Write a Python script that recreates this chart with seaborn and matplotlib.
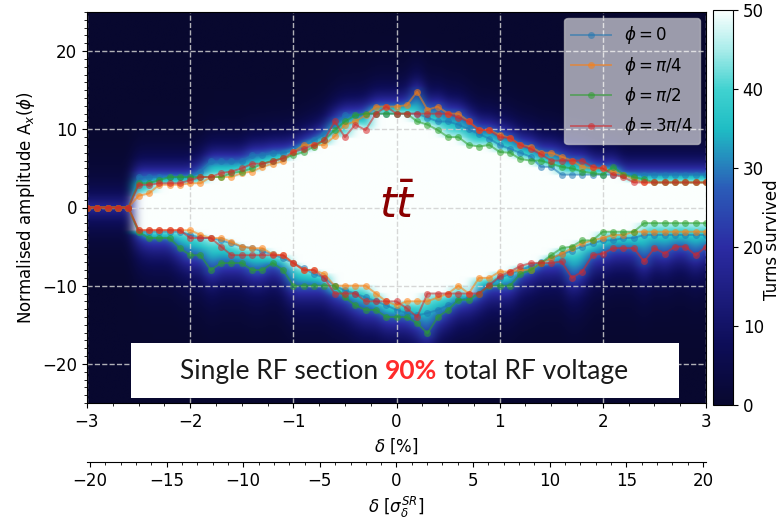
import numpy as np
import pandas as pd
import matplotlib
matplotlib.use("Agg")
import matplotlib.pyplot as plt
import seaborn as sns
from matplotlib.colors import LinearSegmentedColormap
from matplotlib.patches import Rectangle
from matplotlib.ticker import MultipleLocator

# momentum offset (%) at which the aperture was scanned
delta = np.round(np.linspace(-3.0, 3.0, 61), 1)

phase_labels = [r"$\phi = 0$", r"$\phi = \pi/4$", r"$\phi = \pi/2$", r"$\phi = 3\pi/4$"]

# upper edge of the dynamic aperture, one list per phase
upper_0 = [0, 0, 0, 0, 0, 3.9, 3.9, 3.9, 3.9, 3.9, 3.9, 4.6, 5.9, 5.9, 5.9,
           5.9, 6.7, 6.7, 7.0, 7.0, 7.3, 7.8, 8.6, 9.4, 10.6, 11.8, 11.8, 12.0, 12.0, 12.0,
           12.0, 12.0, 12.0, 11.5, 11.0, 11.0, 10.6, 10.0, 9.4, 8.8, 8.0, 7.5, 7.0, 6.5, 5.2,
           5.2, 4.2, 4.2, 4.2, 4.2, 4.2, 4.2, 4.2, 4.2, 4.2, 4.2, 4.2, 4.2, 4.2, 4.2, 4.2]
upper_pi4 = [0, 0, 0, 0, 0, 1.5, 1.8, 2.9, 2.9, 2.9, 3.1, 3.1, 3.9, 3.9, 3.9,
             4.4, 4.6, 5.2, 5.6, 5.9, 7.1, 8.0, 8.0, 8.0, 9.1, 10.6, 11.0, 11.8, 12.9, 12.9,
             12.9, 13.1, 14.8, 12.5, 12.9, 12.0, 12.0, 11.0, 9.9, 9.9, 9.3, 8.9, 8.0, 7.8, 7.0,
             7.0, 6.5, 6.0, 5.2, 5.0, 5.0, 4.6, 4.2, 3.6, 3.2, 3.2, 3.2, 3.2, 3.2, 3.2, 3.2]
upper_pi2 = [0, 0, 0, 0, 0, 3.1, 3.1, 3.5, 3.9, 3.9, 3.9, 3.9, 3.9, 3.9, 4.4,
             4.6, 5.0, 5.6, 6.0, 6.3, 6.7, 7.1, 7.8, 8.6, 9.9, 11.0, 11.8, 12.0, 12.0, 12.0,
             12.0, 12.0, 11.0, 10.6, 9.9, 9.0, 9.0, 8.0, 7.8, 8.0, 7.1, 7.0, 6.2, 6.0, 6.0,
             5.6, 5.2, 5.0, 4.6, 4.4, 4.2, 5.2, 4.2, 3.9, 3.6, 3.2, 3.2, 3.2, 3.2, 3.2, 3.2]
upper_3pi4 = [0, 0, 0, 0, 0, 2.9, 2.9, 3.1, 3.1, 3.1, 3.5, 3.9, 3.9, 4.4, 4.6,
              5.0, 5.6, 5.6, 5.9, 6.3, 7.1, 7.5, 8.0, 8.6, 11.0, 9.0, 10.6, 9.9, 12.0, 12.9,
              12.0, 12.0, 12.0, 12.0, 12.0, 12.0, 11.5, 11.0, 9.9, 9.9, 9.0, 8.9, 8.0, 7.5, 6.8,
              6.0, 6.0, 6.0, 6.0, 5.2, 5.0, 4.2, 3.9, 3.2, 3.2, 3.2, 3.2, 3.2, 3.2, 3.2, 3.2]

# lower edge of the dynamic aperture
lower_0 = [0, 0, 0, 0, 0, -3.1, -3.1, -3.1, -3.1, -3.1, -3.5, -3.9, -3.9, -4.2, -4.6,
           -5.0, -5.2, -5.6, -6.0, -6.5, -7.1, -7.8, -8.5, -9.0, -10.0, -10.6, -11.0, -11.5, -12.0, -12.5,
           -13.1, -13.5, -13.8, -13.5, -13.1, -12.5, -12.0, -11.5, -11.0, -10.0, -9.0, -8.5, -8.0, -7.5, -7.0,
           -6.5, -6.0, -5.5, -5.0, -4.6, -4.2, -4.2, -3.9, -3.9, -3.5, -3.5, -3.5, -3.5, -3.5, -3.5, -3.5]
lower_pi4 = [0, 0, 0, 0, 0, -2.9, -2.9, -2.9, -2.9, -2.9, -2.9, -3.5, -3.9, -3.9, -4.4,
             -5.0, -5.2, -5.2, -6.0, -6.1, -7.1, -8.0, -8.0, -8.5, -10.0, -10.0, -10.0, -10.0, -11.0, -12.0,
             -12.5, -12.0, -12.0, -12.0, -11.5, -11.0, -10.0, -11.0, -9.0, -9.0, -8.2, -8.2, -8.0, -8.0, -7.1,
             -6.5, -5.9, -5.2, -4.6, -4.2, -3.9, -3.5, -3.5, -3.1, -3.1, -3.1, -3.1, -3.1, -3.1, -3.1, -3.1]
lower_pi2 = [0, 0, 0, 0, 0, -3.1, -3.9, -3.9, -3.9, -5.2, -6.1, -6.1, -8.0, -7.1, -7.1,
             -7.1, -8.0, -8.0, -7.1, -8.0, -10.0, -10.0, -10.0, -10.0, -10.0, -11.5, -12.5, -13.1, -13.1, -14.0,
             -14.0, -14.0, -14.8, -16.1, -14.0, -13.1, -11.8, -11.8, -11.0, -10.0, -10.0, -10.0, -8.5, -8.0, -7.1,
             -6.1, -5.2, -5.0, -4.2, -4.2, -3.1, -3.1, -3.1, -3.1, -2.0, -2.0, -2.0, -2.0, -2.0, -2.0, -2.0]
lower_3pi4 = [0, 0, 0, 0, 0, -2.9, -2.9, -2.9, -2.9, -2.9, -3.9, -3.9, -3.9, -5.0, -6.1,
              -6.1, -6.1, -6.1, -6.1, -6.1, -7.1, -8.0, -8.0, -9.0, -11.0, -11.0, -11.0, -12.0, -12.0, -12.0,
              -12.0, -12.9, -14.0, -11.0, -11.0, -11.0, -11.0, -11.0, -11.0, -9.9, -8.8, -8.2, -7.5, -7.1, -7.1,
              -7.1, -6.9, -9.0, -8.2, -6.1, -5.9, -5.2, -5.2, -5.2, -6.9, -5.2, -5.9, -5.0, -5.0, -6.1, -5.0]

upper_sets = [upper_0, upper_pi4, upper_pi2, upper_3pi4]
lower_sets = [lower_0, lower_pi4, lower_pi2, lower_3pi4]

sigma_delta_sr = 0.1486  # % per sigma

W, H = 784, 522

# survival map (turns survived, max 50) built from the measured edges
amp = np.linspace(-25, 25, 401)
up = np.array(upper_sets)
lo = np.array(lower_sets)
u_in, u_out = up.min(axis=0), up.max(axis=0)
l_in, l_out = lo.max(axis=0), lo.min(axis=0)

A = amp[:, None]
d = np.where(A >= 0, A - u_in[None, :], l_in[None, :] - A)
w = np.where(A >= 0, (u_out - u_in)[None, :], (l_in - l_out)[None, :]) + 0.5
halo = np.where(A >= 0, 1.8, 2.6)
turns = np.where(d < 0, 50.0,
                 np.where(d <= w, 46 - 22 * d / w, 24 * np.exp(-(d - w) / halo)))
no_ap = (u_in == 0)[None, :] & np.ones_like(A, dtype=bool)
turns = np.where(no_ap, 19 * np.exp(-np.abs(A) / 2.2), turns)

cmap = LinearSegmentedColormap.from_list("turns", [
    (0.0, "#08082f"), (0.15, "#0d0d57"), (0.4, "#2b2ba3"), (0.55, "#2b5cb8"),
    (0.7, "#1fbdc4"), (0.8, "#40d2d0"), (0.9, "#a8ecea"), (1.0, "#fbfffe")])

rows = []
for label, u, l in zip(phase_labels, upper_sets, lower_sets):
    for side, vals in (("upper", u), ("lower", l)):
        for dx, a in zip(delta, vals):
            rows.append({"delta": dx, "amp": a, "phase": label, "side": side})
df = pd.DataFrame(rows)

fig = plt.figure(figsize=(W / 100, H / 100), dpi=100)
ax = fig.add_axes([87 / W, 119 / H, 619 / W, 391 / H])

im = ax.imshow(turns, origin="lower", extent=(-3.05, 3.05, -25, 25), aspect="auto",
               cmap=cmap, vmin=0, vmax=50, interpolation="bicubic", zorder=0)

sns.lineplot(data=df, x="delta", y="amp", hue="phase", units="side", estimator=None,
             sort=False, palette=sns.color_palette("tab10", 4), marker="o",
             markersize=5, markeredgewidth=0, linewidth=1.4, alpha=0.55, ax=ax)

ax.set_xlim(-3, 3)
ax.set_ylim(-25, 25)
ax.set_xticks(np.arange(-3, 4, 1))
ax.set_yticks(np.arange(-20, 21, 10))
ax.xaxis.set_minor_locator(MultipleLocator(0.25))
ax.yaxis.set_minor_locator(MultipleLocator(1))
ax.tick_params(labelsize=12)
ax.set_axisbelow("line")
ax.grid(True, which="major", linestyle="--", color="#d0d0d0", alpha=0.85, linewidth=1.0)
ax.set_xlabel(r"$\delta$ [%]", fontsize=12)
ax.set_ylabel(r"Normalised amplitude A$_x$($\phi$)", fontsize=12)

sns.move_legend(ax, "upper right", title=None, fontsize=12, frameon=True,
                framealpha=0.6, facecolor="white", edgecolor="#cccccc",
                handlelength=2.4, borderaxespad=0.35)

sec = ax.secondary_xaxis(-0.151, functions=(lambda x: x / sigma_delta_sr,
                                            lambda s: s * sigma_delta_sr))
sec.set_xticks(np.arange(-20, 21, 5))
sec.xaxis.set_minor_locator(MultipleLocator(1))
sec.tick_params(labelsize=12)
sec.set_xlabel(r"$\delta$ [$\sigma_\delta^{SR}$]", fontsize=12)

cax = fig.add_axes([713 / W, 117 / H, 20 / W, 395 / H])
cb = fig.colorbar(im, cax=cax)
cb.set_ticks(np.arange(0, 51, 10))
cb.ax.tick_params(labelsize=12)
fig.text(772 / W, 1 - 240 / H, "Turns survived", rotation=90, fontsize=12,
         ha="center", va="center")

# overlay annotations
fig.text(398 / W, 1 - 206 / H, r"$t\bar{t}$", fontsize=31, color="#8b0000",
         ha="center", va="center", zorder=6)

fig.add_artist(Rectangle((131 / W, 1 - 398 / H), (679 - 131) / W, (398 - 343) / H,
                         transform=fig.transFigure, facecolor="white",
                         edgecolor="none", zorder=5))

renderer = fig.canvas.get_renderer()
parts = [("Single RF section", dict(color="#1a1a1a")),
         ("90%", dict(color="#ff2b2b", weight="bold")),
         ("total RF voltage", dict(color="#1a1a1a"))]
fsize = 19
probe = fig.text(0, 0, "a a", fontsize=fsize, family="Lato")
probe2 = fig.text(0, 0, "aa", fontsize=fsize, family="Lato")
gap = probe.get_window_extent(renderer).width - probe2.get_window_extent(renderer).width
probe.remove()
probe2.remove()
texts = []
for s, kw in parts:
    t = fig.text(0, 1 - 371 / H, s, fontsize=fsize, family="Lato", va="center",
                 zorder=6, **kw)
    texts.append(t)
widths = [t.get_window_extent(renderer).width for t in texts]
total = sum(widths) + gap * (len(texts) - 1)
x = 404 - total / 2
for t, wd in zip(texts, widths):
    t.set_x(x / W)
    x += wd + gap

fig.savefig("out.png", dpi=100)
